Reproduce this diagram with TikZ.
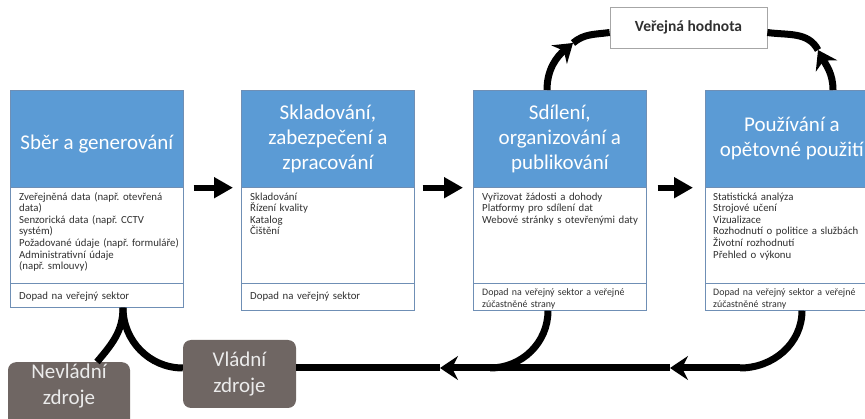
\documentclass[tikz,border=0pt]{standalone}
\usepackage{fontspec}
\setmainfont{Carlito}
\usetikzlibrary{arrows.meta,calc}
\definecolor{hdrblue}{HTML}{5B9BD5}
\definecolor{edgeblue}{HTML}{6F8FB5}
\definecolor{srcgray}{HTML}{6F6663}
\definecolor{txtgray}{HTML}{303030}
\newcommand\mystrut{\rule{0pt}{9pt}}
\frenchspacing
\begin{document}
\begin{tikzpicture}[x=1pt,y=-1pt,
  hdr/.style={draw=edgeblue, line width=0.7pt, fill=hdrblue, minimum width=173pt, minimum height=97pt, inner sep=0pt, anchor=north west},
  title/.style={text=white, align=center, inner sep=0pt, font=\fontsize{21}{25}\selectfont},
  bodybox/.style={draw=edgeblue, line width=0.7pt, fill=white, minimum width=173pt, inner sep=0pt, anchor=north west},
  bodytxt/.style={anchor=north west, inner sep=0pt, text width=175pt, align=left, text=txtgray, font=\fontsize{10.8}{11.6}\selectfont},
  foottxt/.style={anchor=north west, inner sep=0pt, text width=175pt, align=left, text=txtgray, font=\fontsize{9.9}{12}\selectfont},
  nextarrow/.style={line width=6pt, -{Triangle[length=19pt,width=20pt]}},
  flow/.style={line width=7pt, black},
  flowtip/.style={flow, -{Stealth[length=18pt,width=24pt,inset=6pt]}},
  srcbox/.style={fill=srcgray, rounded corners=8pt, inner sep=0pt, text=white!92!black, align=center, font=\fontsize{21}{26}\selectfont},
  valbox/.style={draw=gray!70, line width=0.7pt, fill=white, minimum width=157pt, minimum height=41pt, text=txtgray, font=\bfseries\fontsize{15.5}{18}\selectfont}
]
\useasboundingbox (0,0) rectangle (865,419);
\clip (0,0) rectangle (865,419);

% ---- box 1
\node[hdr] (h1) at (10,90) {};
\node[bodybox, minimum height=96pt] (b1) at (10,187) {};
\node[bodybox, minimum height=24pt] (f1) at (10,283) {};
\node[title] (t1) at ($(h1.center)+(0,5)$) {Sběr a generování};
\node[bodytxt] (d1) at ($(b1.north west)+(9,4)$) {\mystrut Zveřejněná data (např. otevřená\\data)\\Senzorická data (např. CCTV\\systém)\\Požadované údaje (např. formuláře)\\Administrativní údaje\\(např. smlouvy)};
\node[bodytxt] (e1) at ($(f1.north west)+(9,7)$) {\mystrut Dopad na veřejný sektor};

% ---- box 2
\node[hdr] (h2) at (241,90) {};
\node[bodybox, minimum height=96pt] (b2) at (241,187) {};
\node[bodybox, minimum height=27pt] (f2) at (241,283) {};
\node[title] (t2) at (h2.center) {Skladování,\\zabezpečení a\\zpracování};
\node[bodytxt] (d2) at ($(b2.north west)+(9,4)$) {\mystrut Skladování\\Řízení kvality\\Katalog\\Čištění};
\node[bodytxt] (e2) at ($(f2.north west)+(9,7)$) {\mystrut Dopad na veřejný sektor};

% ---- box 3
\node[hdr] (h3) at (473,90) {};
\node[bodybox, minimum height=96pt] (b3) at (473,187) {};
\node[bodybox, minimum height=27pt] (f3) at (473,283) {};
\node[title] (t3) at (h3.center) {Sdílení,\\organizování a\\publikování};
\node[bodytxt] (d3) at ($(b3.north west)+(9,4)$) {\mystrut Vyřizovat žádosti a dohody\\Platformy pro sdílení dat\\Webové stránky s otevřenými daty};
\node[foottxt] (e3) at ($(f3.north west)+(9,3)$) {\mystrut Dopad na veřejný sektor a veřejné\\zúčastněné strany};

% ---- box 4
\node[hdr] (h4) at (705,90) {};
\node[bodybox, minimum height=96pt] (b4) at (705,187) {};
\node[bodybox, minimum height=27pt] (f4) at (705,283) {};
\node[title] (t4) at (h4.center) {Používání a\\opětovné použití};
\node[bodytxt] (d4) at ($(b4.north west)+(8,4)$) {\mystrut Statistická analýza\\Strojové učení\\Vizualizace\\Rozhodnutí o politice a službách\\Životní rozhodnutí\\Přehled o výkonu};
\node[foottxt] (e4) at ($(f4.north west)+(8,3)$) {\mystrut Dopad na veřejný sektor a veřejné\\zúčastněné strany};

% ---- arrows between boxes
\draw[nextarrow] ([xshift=10pt]h1.south east) -- ([xshift=-8pt]h2.south west);
\draw[nextarrow] ([xshift=8pt]h2.south east) -- ([xshift=-10pt]h3.south west);
\draw[nextarrow] ([xshift=11pt]h3.south east) -- ([xshift=-12pt]h4.south west);

% ---- public value
\node[valbox] (vh) at (688.5,27.5) {Veřejná hodnota};
\coordinate (h3top) at ($(h3.north west)+(74,0)$);
\coordinate (h4top) at ($(h4.north west)+(128,0)$);
\coordinate (m1) at (573,43);
\coordinate (m2) at (818,50);
\draw[flowtip] (h3top) to[out=90,in=220] (m1);
\draw[flow] (m1) to[out=40,in=188] ($(vh.west)+(0,5)$);
\draw[flowtip] (h4top) to[out=90,in=-62] (m2);
\draw[flow] (m2) to[out=118,in=-8] ($(vh.east)+(0,5)$);

% ---- sources
\node[srcbox, minimum width=113pt, minimum height=68pt] (vl) at (239.5,374) {Vládní\\zdroje};
\node[srcbox, minimum width=122pt, minimum height=70pt, anchor=north] (nev) at (69,362) {};
\node[align=center, inner sep=0pt, text=white!92!black, font=\fontsize{21}{26}\selectfont] (nevt) at (69,386) {Nevládní\\zdroje};

% ---- return flows
\coordinate (c4) at (740,368);
\coordinate (c3) at (490,368);
\coordinate (a1) at (670,368);
\coordinate (a2) at (440,368);
\coordinate (J) at ($(f1.south west)+(113,0)$);
\draw[flow] ($(f4.south west)+(97,0)$) to[out=-90,in=0] (c4);
\draw[flowtip] (c4) -- (a1);
\draw[flowtip] (a1) -- (a2);
\draw[flow] (a2) -- (c4 -| vl.east);
\draw[flow] ($(f3.south west)+(75,0)$) to[out=-90,in=0] (c3);
\draw[flow] (J) to[out=-90,in=180] (c4 -| vl.west);
\draw[flow] (J) to[out=-90,in=50] ($(nev.north)+(28,0)$);
\end{tikzpicture}
\end{document}
